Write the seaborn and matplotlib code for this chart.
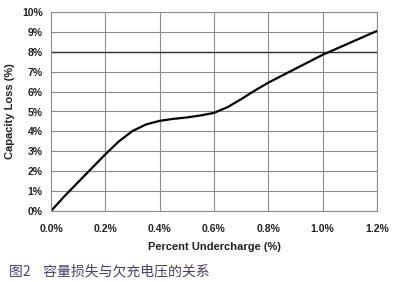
import matplotlib
matplotlib.use("Agg")
import matplotlib.pyplot as plt
import seaborn as sns
import pandas as pd
from matplotlib.ticker import FuncFormatter

undercharge = [0.0, 0.05, 0.10, 0.15, 0.20, 0.25, 0.30, 0.35, 0.40, 0.45, 0.50,
               0.55, 0.60, 0.65, 0.70, 0.75, 0.80, 0.85, 0.90, 0.95, 1.00,
               1.05, 1.10, 1.15, 1.20]
capacity_loss = [0.0, 0.75, 1.45, 2.15, 2.85, 3.5, 4.02, 4.35, 4.53, 4.63, 4.7,
                 4.8, 4.93, 5.22, 5.62, 6.05, 6.45, 6.8, 7.15, 7.5, 7.85,
                 8.15, 8.45, 8.75, 9.05]
x_ticks = [0.0, 0.2, 0.4, 0.6, 0.8, 1.0, 1.2]
y_ticks = list(range(0, 11))

df = pd.DataFrame({"x": undercharge, "y": capacity_loss})

sns.set_theme(style="white")
plt.rcParams['font.family'] = ['Liberation Sans', 'DejaVu Sans']

fig = plt.figure(figsize=(3.96, 2.82), dpi=100)
ax = fig.add_axes([51/396, 1-211/282, (377-51)/396, (211-12)/282])

sns.lineplot(data=df, x="x", y="y", ax=ax, color="black", linewidth=1.6)

ax.set_xlim(0, 1.2)
ax.set_ylim(0, 10)
ax.set_xticks(x_ticks)
ax.set_yticks(y_ticks)
ax.xaxis.set_major_formatter(FuncFormatter(lambda v, p: f"{v:.1f}%"))
ax.yaxis.set_major_formatter(FuncFormatter(lambda v, p: f"{int(round(v))}%"))
ax.grid(True, color="#8c8c8c", linewidth=0.8)
ax.axhline(8, color="#333333", linewidth=1.0, zorder=1)
for s in ax.spines.values():
    s.set_color("#8c8c8c")
    s.set_linewidth(0.8)
ax.tick_params(axis="both", length=0, labelsize=7.5, colors="#222222")
ax.tick_params(axis="x", pad=9)
ax.tick_params(axis="y", pad=6)
for lab in ax.get_xticklabels() + ax.get_yticklabels():
    lab.set_fontweight("bold")

ax.set_xlabel("Percent Undercharge (%)", fontsize=8, fontweight="bold", color="#222222", labelpad=6)
ax.set_ylabel("Capacity Loss (%)", fontsize=8, fontweight="bold", color="#222222", labelpad=5)

fig.text(9/396, 1-271/282, "图2    容量损失与欠充电压的关系", fontsize=10,
         color="#4a3f6b", va="center", ha="left",
         family=['Noto Sans CJK SC', 'DejaVu Sans'])

fig.savefig("out.png", dpi=100, facecolor="white")
